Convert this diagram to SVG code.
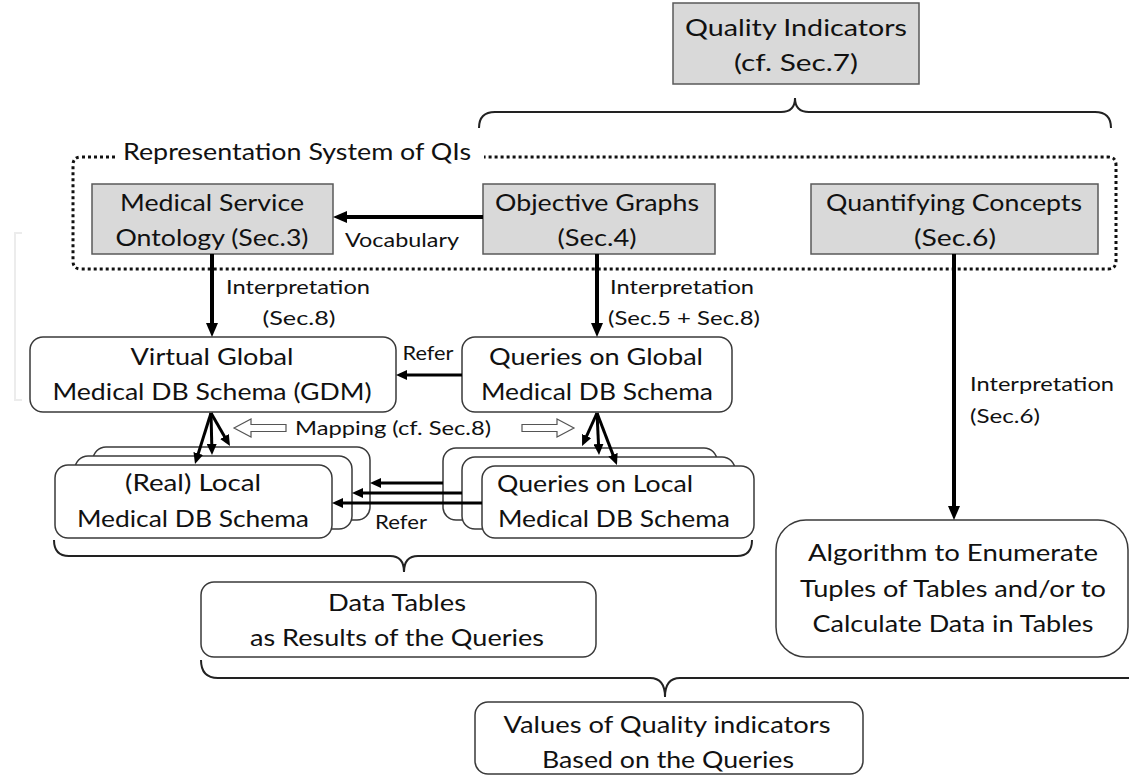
<svg xmlns="http://www.w3.org/2000/svg" width="1129" height="776" viewBox="0 0 1129 776">
<style>
  .gray { fill: #d9d9d9; stroke: #595959; stroke-width: 1.5; }
  .rnd { fill: #ffffff; stroke: #3a3a3a; stroke-width: 1.5; }
  .t { font-family: Lato, "Liberation Sans", sans-serif; font-size: 24px; fill: #111; text-anchor: middle; }
  .s { font-family: Lato, "Liberation Sans", sans-serif; font-size: 20px; fill: #111; text-anchor: middle; }
  .brace { fill: none; stroke: #222; stroke-width: 2; }
  .thick { stroke: #000; stroke-width: 4; fill: none; }
  .thin { stroke: #000; stroke-width: 3; fill: none; }
  .hollow { fill: #fff; stroke: #555; stroke-width: 1.2; }
</style>
<defs>
  <marker id="ah" viewBox="0 0 14 12" refX="3" refY="6" markerWidth="14" markerHeight="12" markerUnits="userSpaceOnUse" orient="auto">
    <path d="M0,0 L14,6 L0,12 z" fill="#000"/>
  </marker>
  <marker id="ahs" viewBox="0 0 11 10" refX="2" refY="5" markerWidth="11" markerHeight="10" markerUnits="userSpaceOnUse" orient="auto">
    <path d="M0,0 L11,5 L0,10 z" fill="#000"/>
  </marker>
</defs>
<rect width="1129" height="776" fill="#fff"/>

<!-- faint artifact -->
<path d="M22,233 H15 V400 H22" fill="none" stroke="#ececec" stroke-width="2"/>

<!-- braces -->
<g id="braces">
  <path class="brace" d="M479,128 Q479,112 495,112 H781 Q795,112 795,98 Q795,112 809,112 H1095 Q1111,112 1111,128"/>
  <path class="brace" d="M54,540 Q54,556 69,556 H390 Q404,556 404,572 Q404,556 418,556 H737 Q752,556 752,540"/>
  <path class="brace" d="M201,660 Q201,678 218,678 H650 Q665,678 665,697 Q665,678 680,678 H1129"/>
</g>

<!-- representation system container -->
<g id="representation-system">
  <path d="M115,157 H81 Q73,157 73,165 V261 Q73,269 81,269 H1108 Q1116,269 1116,261 V165 Q1116,157 1108,157 H484" fill="none" stroke="#111" stroke-width="3" stroke-dasharray="3 3"/>
  <text class="t" x="297" y="160" textLength="348" lengthAdjust="spacingAndGlyphs">Representation System of QIs</text>
</g>

<g id="quality-indicators">
  <rect class="gray" x="673" y="3" width="246" height="81"/>
  <text class="t" x="796" y="36" textLength="222" lengthAdjust="spacingAndGlyphs">Quality Indicators</text>
  <text class="t" x="796" y="71" textLength="124" lengthAdjust="spacingAndGlyphs">(cf. Sec.7)</text>
</g>

<g id="medical-service-ontology">
  <rect class="gray" x="92" y="184" width="241" height="70"/>
  <text class="t" x="212" y="211" textLength="184" lengthAdjust="spacingAndGlyphs">Medical Service</text>
  <text class="t" x="212" y="246" textLength="193" lengthAdjust="spacingAndGlyphs">Ontology (Sec.3)</text>
</g>

<g id="objective-graphs">
  <rect class="gray" x="483" y="184" width="232" height="70"/>
  <text class="t" x="597" y="211" textLength="204" lengthAdjust="spacingAndGlyphs">Objective Graphs</text>
  <text class="t" x="597" y="246" textLength="79" lengthAdjust="spacingAndGlyphs">(Sec.4)</text>
</g>

<g id="quantifying-concepts">
  <rect class="gray" x="811" y="184" width="287" height="70"/>
  <text class="t" x="954" y="211" textLength="256" lengthAdjust="spacingAndGlyphs">Quantifying Concepts</text>
  <text class="t" x="955" y="246" textLength="82" lengthAdjust="spacingAndGlyphs">(Sec.6)</text>
</g>

<g id="virtual-global">
  <rect class="rnd" x="30" y="337" width="366" height="75" rx="13"/>
  <text class="t" x="212" y="365" textLength="163" lengthAdjust="spacingAndGlyphs">Virtual Global</text>
  <text class="t" x="212" y="400" textLength="319" lengthAdjust="spacingAndGlyphs">Medical DB Schema (GDM)</text>
</g>

<g id="queries-global">
  <rect class="rnd" x="462" y="337" width="270" height="75" rx="13"/>
  <text class="t" x="596" y="365" textLength="214" lengthAdjust="spacingAndGlyphs">Queries on Global</text>
  <text class="t" x="597" y="400" textLength="232" lengthAdjust="spacingAndGlyphs">Medical DB Schema</text>
</g>

<g id="local-schema">
  <rect class="rnd" x="93" y="447" width="277" height="73" rx="13"/>
  <rect class="rnd" x="75" y="456" width="277" height="73" rx="13"/>
  <rect class="rnd" x="55" y="465" width="277" height="73" rx="13"/>
  <text class="t" x="193" y="491" textLength="136" lengthAdjust="spacingAndGlyphs">(Real) Local</text>
  <text class="t" x="193" y="527" textLength="232" lengthAdjust="spacingAndGlyphs">Medical DB Schema</text>
</g>

<g id="queries-local">
  <rect class="rnd" x="443" y="448" width="274" height="72" rx="13"/>
  <rect class="rnd" x="462" y="457" width="273" height="72" rx="13"/>
  <rect class="rnd" x="482" y="466" width="272" height="72" rx="13"/>
  <text class="t" x="595" y="492" textLength="196" lengthAdjust="spacingAndGlyphs">Queries on Local</text>
  <text class="t" x="614" y="527" textLength="232" lengthAdjust="spacingAndGlyphs">Medical DB Schema</text>
</g>

<g id="data-tables">
  <rect class="rnd" x="201" y="582" width="395" height="75" rx="13"/>
  <text class="t" x="397" y="611" textLength="138" lengthAdjust="spacingAndGlyphs">Data Tables</text>
  <text class="t" x="397" y="646" textLength="294" lengthAdjust="spacingAndGlyphs">as Results of the Queries</text>
</g>

<g id="algorithm">
  <rect class="rnd" x="776" y="520" width="352" height="137" rx="30"/>
  <text class="t" x="953" y="561" textLength="290" lengthAdjust="spacingAndGlyphs">Algorithm to Enumerate</text>
  <text class="t" x="953" y="597" textLength="306" lengthAdjust="spacingAndGlyphs">Tuples of Tables and/or to</text>
  <text class="t" x="953" y="632" textLength="281" lengthAdjust="spacingAndGlyphs">Calculate Data in Tables</text>
</g>

<g id="values">
  <rect class="rnd" x="475" y="702" width="388" height="72" rx="13"/>
  <text class="t" x="667" y="733" textLength="327" lengthAdjust="spacingAndGlyphs">Values of Quality indicators</text>
  <text class="t" x="668" y="768" textLength="252" lengthAdjust="spacingAndGlyphs">Based on the Queries</text>
</g>

<g id="connectors">
  <!-- vocabulary -->
  <line class="thick" x1="483" y1="217" x2="344" y2="217" marker-end="url(#ah)"/>
  <text class="s" x="402" y="247" textLength="114" lengthAdjust="spacingAndGlyphs">Vocabulary</text>
  <!-- interpretation arrows -->
  <line class="thick" x1="212" y1="254" x2="212" y2="326" marker-end="url(#ah)"/>
  <text class="s" x="298" y="294" textLength="144" lengthAdjust="spacingAndGlyphs">Interpretation</text>
  <text class="s" x="299" y="325" textLength="73" lengthAdjust="spacingAndGlyphs">(Sec.8)</text>
  <line class="thick" x1="597" y1="254" x2="597" y2="326" marker-end="url(#ah)"/>
  <text class="s" x="682" y="294" textLength="144" lengthAdjust="spacingAndGlyphs">Interpretation</text>
  <text class="s" x="684" y="325" textLength="152" lengthAdjust="spacingAndGlyphs">(Sec.5 + Sec.8)</text>
  <line class="thick" x1="954" y1="254" x2="954" y2="509" marker-end="url(#ah)"/>
  <text class="s" x="1042" y="391" textLength="144" lengthAdjust="spacingAndGlyphs">Interpretation</text>
  <text class="s" x="1005" y="423" textLength="70" lengthAdjust="spacingAndGlyphs">(Sec.6)</text>
  <!-- refer (global) -->
  <line class="thin" x1="462" y1="375" x2="405" y2="375" marker-end="url(#ahs)"/>
  <text class="s" x="428" y="360" textLength="51" lengthAdjust="spacingAndGlyphs">Refer</text>
  <!-- mapping -->
  <polygon class="hollow" points="234,428 251,419 251,424.5 286,424.5 286,431.5 251,431.5 251,437"/>
  <text class="s" x="393" y="435" textLength="196" lengthAdjust="spacingAndGlyphs">Mapping (cf. Sec.8)</text>
  <polygon class="hollow" points="574,428 557,419 557,424.5 522,424.5 522,431.5 557,431.5 557,437"/>
  <!-- fan from virtual global -->
  <line class="thin" x1="211" y1="413" x2="197.7" y2="455.4" marker-end="url(#ahs)"/>
  <line class="thin" x1="211" y1="413" x2="211.8" y2="446" marker-end="url(#ahs)"/>
  <line class="thin" x1="211" y1="413" x2="225.5" y2="438.2" marker-end="url(#ahs)"/>
  <!-- fan from queries on global -->
  <line class="thin" x1="597" y1="413" x2="585.8" y2="437.8" marker-end="url(#ahs)"/>
  <line class="thin" x1="597" y1="413" x2="598.6" y2="446" marker-end="url(#ahs)"/>
  <line class="thin" x1="597" y1="413" x2="613.7" y2="456.6" marker-end="url(#ahs)"/>
  <!-- refer (local) -->
  <line class="thin" x1="443" y1="483" x2="379" y2="483" marker-end="url(#ahs)"/>
  <line class="thin" x1="462" y1="493" x2="361" y2="493" marker-end="url(#ahs)"/>
  <line class="thin" x1="482" y1="503" x2="341" y2="503" marker-end="url(#ahs)"/>
  <text class="s" x="401" y="529" textLength="52" lengthAdjust="spacingAndGlyphs">Refer</text>
</g>
</svg>
